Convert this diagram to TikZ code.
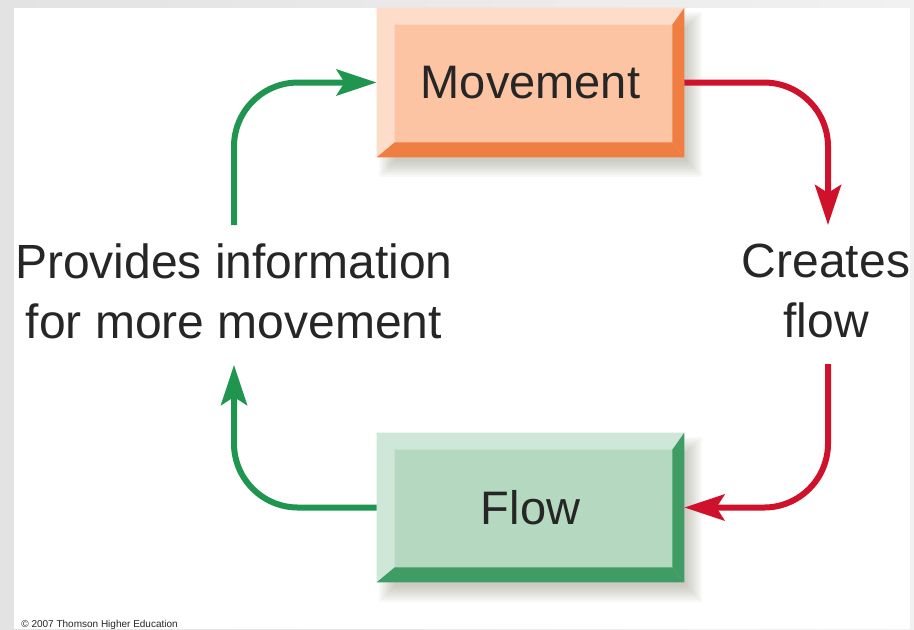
\documentclass[tikz,border=0pt]{standalone}
\usepackage{fontspec}
\setmainfont{Liberation Sans}
\usetikzlibrary{arrows.meta,calc}
\definecolor{movface}{HTML}{FCC4A2}
\definecolor{movlight}{HTML}{FDDCCA}
\definecolor{movdark}{HTML}{F07E42}
\definecolor{flowface}{HTML}{B4D9C0}
\definecolor{flowlight}{HTML}{CFE7D8}
\definecolor{flowdark}{HTML}{3F9C64}
\definecolor{garrowc}{HTML}{1F9550}
\definecolor{rarrowc}{HTML}{D0112B}
\definecolor{shadowc}{HTML}{8C8C78}
\definecolor{textc}{HTML}{262626}
\pgfdeclarelayer{backlayer}
\pgfdeclarelayer{shadelayer}
\pgfsetlayers{backlayer,shadelayer,main}
\tikzset{
  box/.style={minimum width=153.5pt, minimum height=74.5pt, inner sep=0pt,
    font=\fontsize{23.5pt}{28pt}\selectfont, text=textc},
  lbl/.style={align=center, inner sep=0pt, font=\fontsize{24pt}{30pt}\selectfont, text=textc},
  arr/.style={line width=3pt, rounded corners=32pt,
    -{Stealth[length=20pt,width=13pt,inset=4pt]}},
  garr/.style={arr, draw=garrowc},
  rarr/.style={arr, draw=rarrowc},
}
\newcommand\drawbevel[3]{%
  \fill[#2] (#1.north west) -- (#1.north east) -- ($(#1.north east)+(-12,17)$) -- ($(#1.north west)+(18,17)$) -- cycle;
  \fill[#2] (#1.north west) -- ($(#1.north west)+(18,17)$) -- ($(#1.south west)+(18,-15)$) -- (#1.south west) -- cycle;
  \fill[#3] (#1.north east) -- (#1.south east) -- ($(#1.south east)+(-12,-15)$) -- ($(#1.north east)+(-12,17)$) -- cycle;
  \fill[#3] (#1.south west) -- ($(#1.south west)+(18,-15)$) -- ($(#1.south east)+(-12,-15)$) -- (#1.south east) -- cycle;
  \begin{pgfonlayer}{shadelayer}
    \foreach \r in {-8,-6,...,8}
      \fill[shadowc, opacity=0.06] ($(#1.north west)+(10-\r,12-\r)$) rectangle ($(#1.south east)+(10+\r,12+\r)$);
  \end{pgfonlayer}
}
\begin{document}
\begin{tikzpicture}[x=0.5pt,y=-0.5pt]
\useasboundingbox (0,0) rectangle (914,629);
\begin{pgfonlayer}{backlayer}
  \shade[left color=gray!22, right color=gray!11] (0,0) rectangle (914,629);
  \fill[white] (14,8) rectangle (910,629);
\end{pgfonlayer}

\node[box, fill=movface] (mov) at (530.5,82.5) {\raisebox{-1.5pt}{Movement}};
\node[box, fill=flowface] (flow) at (530.5,507.5) {Flow};
\drawbevel{mov}{movlight}{movdark}
\drawbevel{flow}{flowlight}{flowdark}

\node[lbl] (prov) at (234,291) {Provides information\\for more movement};
\node[lbl] (crea) at (826,291) {Creates\\flow};
\node[font=\fontsize{5pt}{6pt}\selectfont, anchor=base west, inner sep=0pt, text=textc] (copy) at (21,627) {\textcopyright{} 2007 Thomson Higher Education};

\coordinate (gs) at (234,225);
\coordinate (re) at (828,225);
\coordinate (rs) at (828,364);
\coordinate (ge) at (234,365);

\draw[rarr] (mov.east) -| (re);
\draw[rarr] (rs) |- (flow.east);
\draw[garr] (flow.west) -| (ge);
\draw[garr] (gs) |- (mov.west);
\end{tikzpicture}
\end{document}
